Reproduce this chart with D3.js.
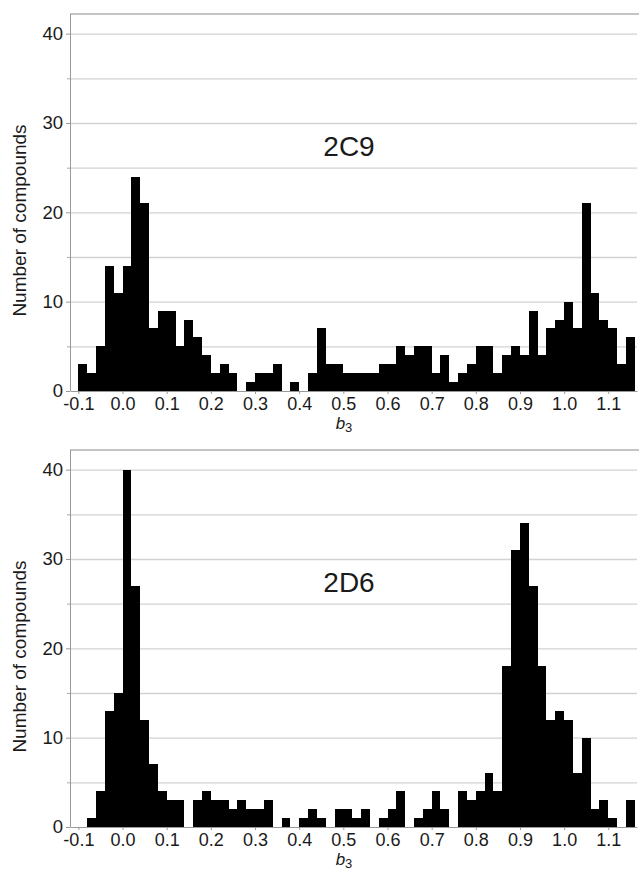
<!DOCTYPE html>
<html>
<head>
<meta charset="utf-8">
<script src="https://cdnjs.cloudflare.com/ajax/libs/d3/7.8.5/d3.min.js"></script>
<style>
    body { margin: 0; background: #fff; }
    svg text { font-family: "Liberation Sans", Arial, sans-serif; fill: #1a1a1a; }
</style>
</head>
<body>
<div id="chart"></div>
<script>
    // lower edge of every b3 bin (bin width 0.02)
    var binStarts = [
        -0.10, -0.08, -0.06, -0.04, -0.02, 0.00, 0.02, 0.04, 0.06, 0.08,
        0.10, 0.12, 0.14, 0.16, 0.18, 0.20, 0.22, 0.24, 0.26, 0.28,
        0.30, 0.32, 0.34, 0.36, 0.38, 0.40, 0.42, 0.44, 0.46, 0.48,
        0.50, 0.52, 0.54, 0.56, 0.58, 0.60, 0.62, 0.64, 0.66, 0.68,
        0.70, 0.72, 0.74, 0.76, 0.78, 0.80, 0.82, 0.84, 0.86, 0.88,
        0.90, 0.92, 0.94, 0.96, 0.98, 1.00, 1.02, 1.04, 1.06, 1.08,
        1.10, 1.12, 1.14
    ];
    var BIN_WIDTH = 0.02;

    // number of compounds per bin, 2C9
    var counts2C9 = [
        3, 2, 5, 14, 11, 14, 24, 21, 7, 9,
        9, 5, 8, 6, 4, 2, 3, 2, 0, 1,
        2, 2, 3, 0, 1, 0, 2, 7, 3, 3,
        2, 2, 2, 2, 3, 3, 5, 4, 5, 5,
        2, 4, 1, 2, 3, 5, 5, 2, 4, 5,
        4, 9, 4, 7, 8, 10, 7, 21, 11, 8,
        7, 3, 6
    ];

    // number of compounds per bin, 2D6
    var counts2D6 = [
        0, 1, 4, 13, 15, 40, 27, 12, 7, 4,
        3, 3, 0, 3, 4, 3, 3, 2, 3, 2,
        2, 3, 0, 1, 0, 1, 2, 1, 0, 2,
        2, 1, 2, 0, 1, 2, 4, 0, 1, 2,
        4, 2, 0, 4, 3, 4, 6, 4, 18, 31,
        34, 27, 18, 12, 13, 12, 6, 10, 2, 3,
        1, 0, 3
    ];

    var xTickValues = [-0.1, 0.0, 0.1, 0.2, 0.3, 0.4, 0.5, 0.6, 0.7, 0.8, 0.9, 1.0, 1.1];
    var yMajorTicks = [0, 10, 20, 30, 40];
    var yMinorTicks = [5, 15, 25, 35];
    var gridValues = [5, 10, 15, 20, 25, 30, 35, 40];

    var panels = [
        {title: '2C9', counts: counts2C9, top: 14},
        {title: '2D6', counts: counts2D6, top: 450}
    ];

    var WIDTH = 639, HEIGHT = 871;
    var PLOT_LEFT = 70, PLOT_RIGHT = 637, PLOT_HEIGHT = 377;
    var TICK_FONT = '18px';

    var svg = d3.select('#chart').append('svg')
        .attr('width', WIDTH)
        .attr('height', HEIGHT);

    var x = d3.scaleLinear()
        .domain([-0.119, 1.165])
        .range([PLOT_LEFT, PLOT_RIGHT]);

    panels.forEach(function(panel) {
        var y = d3.scaleLinear()
            .domain([0, 42.2])
            .range([panel.top + PLOT_HEIGHT, panel.top]);

        var g = svg.append('g');

        // horizontal grid lines every 5
        g.append('g')
            .attr('transform', 'translate(' + PLOT_LEFT + ',0)')
            .call(d3.axisLeft(y).tickValues(gridValues).tickSize(-(PLOT_RIGHT - PLOT_LEFT)).tickFormat(''))
            .call(function(s) {
                s.select('.domain').remove();
                s.selectAll('line').attr('stroke', '#d2d2d2').attr('stroke-width', 1.3);
            });

        // frame top line
        g.append('line')
            .attr('x1', PLOT_LEFT).attr('x2', WIDTH)
            .attr('y1', panel.top).attr('y2', panel.top)
            .attr('stroke', '#b0b0b0')
            .attr('stroke-width', 1.5);

        // histogram bars, snapped to whole pixels so neighbours touch
        g.selectAll('rect.bar')
            .data(panel.counts)
            .enter().append('rect')
            .attr('class', 'bar')
            .attr('shape-rendering', 'crispEdges')
            .attr('x', function(d, i) { return Math.round(x(binStarts[i])); })
            .attr('width', function(d, i) {
                return Math.round(x(binStarts[i] + BIN_WIDTH)) - Math.round(x(binStarts[i]));
            })
            .attr('y', function(d) { return Math.round(y(d)); })
            .attr('height', function(d) { return Math.round(y(0)) - Math.round(y(d)); })
            .attr('fill', '#000');

        // y axis, major ticks with labels
        g.append('g')
            .attr('transform', 'translate(' + PLOT_LEFT + ',0)')
            .call(d3.axisLeft(y).tickValues(yMajorTicks).tickSize(4).tickSizeOuter(0).tickPadding(3).tickFormat(d3.format('d')))
            .call(function(s) {
                s.select('.domain').attr('stroke', '#999').attr('d', 'M0.5,' + panel.top + 'V' + (panel.top + PLOT_HEIGHT));
                s.selectAll('line').attr('stroke', '#999');
                s.selectAll('text').style('font-size', '18.5px');
            });

        // y axis, minor ticks
        g.append('g')
            .attr('transform', 'translate(' + PLOT_LEFT + ',0)')
            .call(d3.axisLeft(y).tickValues(yMinorTicks).tickSize(3).tickFormat(''))
            .call(function(s) {
                s.select('.domain').remove();
                s.selectAll('line').attr('stroke', '#aaa');
            });

        // x axis
        g.append('g')
            .attr('transform', 'translate(0,' + (panel.top + PLOT_HEIGHT) + ')')
            .call(d3.axisBottom(x).tickValues(xTickValues).tickSize(3).tickSizeOuter(0).tickPadding(3)
                .tickFormat(function(d) { return d.toFixed(1); }))
            .call(function(s) {
                s.select('.domain').attr('stroke', '#999');
                s.selectAll('line').attr('stroke', '#999');
                s.selectAll('text').style('font-size', TICK_FONT);
            });

        // x axis title: b3
        var xTitle = g.append('text')
            .attr('x', 344)
            .attr('y', panel.top + PLOT_HEIGHT + 38)
            .attr('text-anchor', 'middle')
            .style('font-size', '17px');
        xTitle.append('tspan').style('font-style', 'italic').text('b');
        xTitle.append('tspan').attr('dy', 3).style('font-size', '13px').text('3');

        // y axis title
        g.append('text')
            .attr('transform', 'translate(19,' + (panel.top + PLOT_HEIGHT / 2 + 18) + ') rotate(-90)')
            .attr('text-anchor', 'middle')
            .attr('dy', '0.35em')
            .style('font-size', '19px')
            .text('Number of compounds');

        // panel title
        g.append('text')
            .attr('x', 349)
            .attr('y', panel.top + 142)
            .attr('text-anchor', 'middle')
            .style('font-size', '28px')
            .text(panel.title);
    });
</script>
</body>
</html>
